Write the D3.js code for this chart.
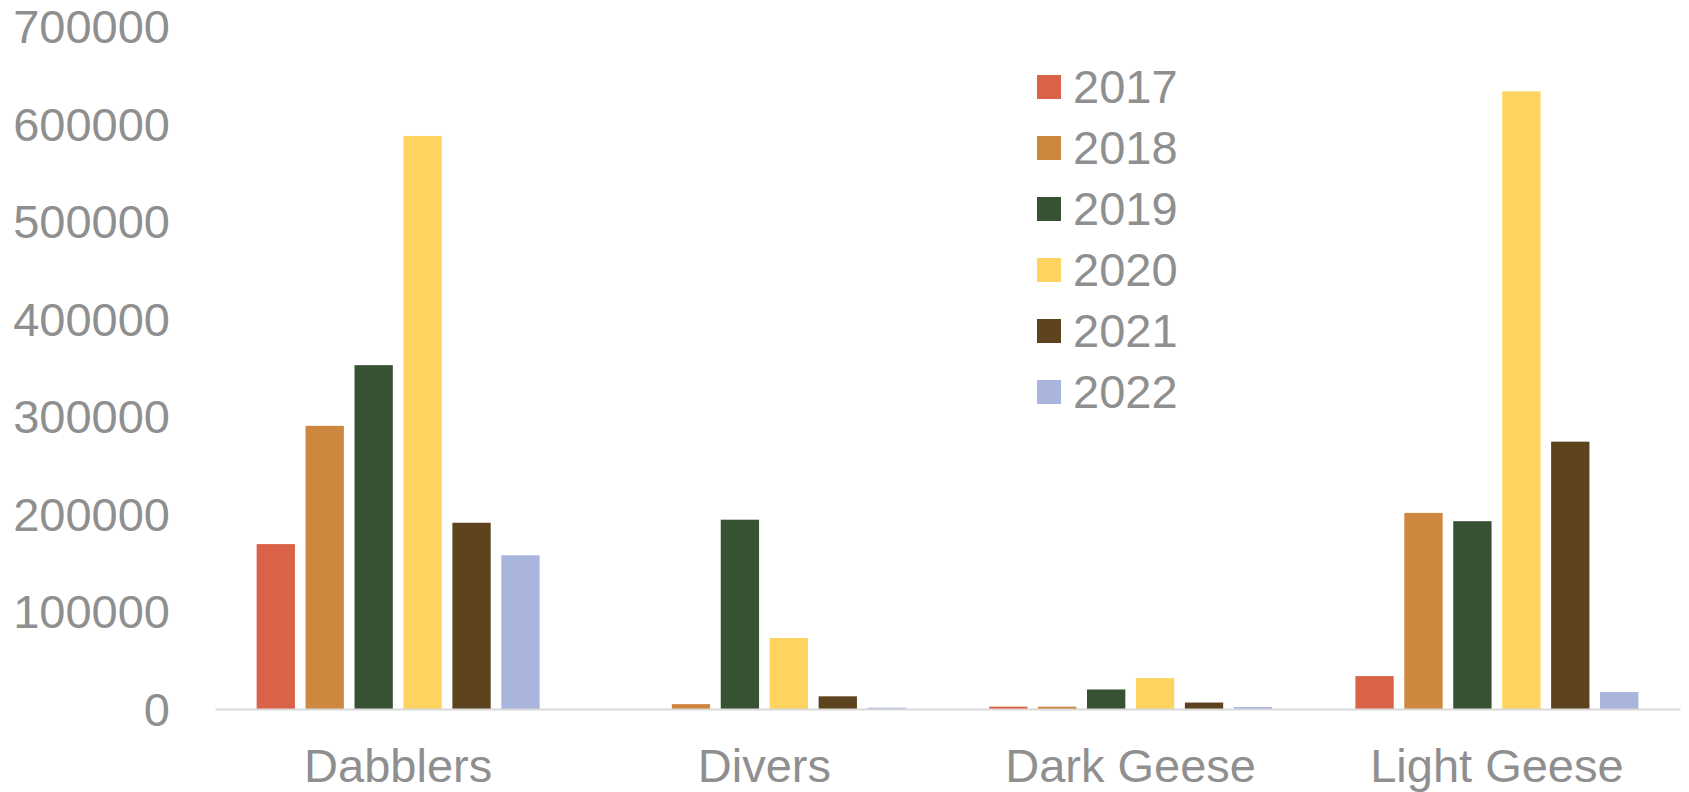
<!DOCTYPE html>
<html>
<head>
<meta charset="utf-8">
<script src="https://cdn.jsdelivr.net/npm/d3@7"></script>
<style>
  html, body { margin: 0; padding: 0; background: #fff; }
  svg text { font-family: "Liberation Sans", Arial, sans-serif; }
</style>
</head>
<body>
<svg id="chart" width="1689" height="792"></svg>
<script>
const categories = ["Dabblers", "Divers", "Dark Geese", "Light Geese"];
const years = ["2017", "2018", "2019", "2020", "2021", "2022"];
const values2017 = [169000, 0, 2400, 33700];
const values2018 = [290200, 5000, 2400, 201000];
const values2019 = [352400, 194000, 20000, 192500];
const values2020 = [587300, 72800, 31600, 633000];
const values2021 = [190900, 13000, 6600, 274000];
const values2022 = [157500, 1400, 2000, 17500];
const yTicks = [0, 100000, 200000, 300000, 400000, 500000, 600000, 700000];
const colors = ["#DA6249", "#CD873F", "#375233", "#FED35F", "#5C431D", "#A9B5DC"];

const seriesValues = [values2017, values2018, values2019, values2020, values2021, values2022];

const svg = d3.select("#chart");
const plot = { left: 215, right: 1680, top: 26, bottom: 709 };
const textColor = "#8f8f8f";
const fontSize = 47;

const x0 = d3.scaleBand().domain(categories).range([plot.left, plot.right]).paddingInner(0).paddingOuter(0);
const bw = x0.bandwidth();
const groupPad = bw * 41.6 / 366;
const x1 = d3.scaleBand().domain(years).range([groupPad, bw - groupPad]).paddingInner(0.217).paddingOuter(0);
const y = d3.scaleLinear().domain([0, 700000]).range([plot.bottom, plot.top]);

// y axis labels
const yAxis = d3.axisLeft(y).tickValues(yTicks).tickSize(0).tickPadding(0).tickFormat(d3.format("d"));
const yG = svg.append("g").attr("transform", "translate(170,0)").call(yAxis);
yG.select(".domain").remove();
yG.selectAll("text")
  .attr("fill", textColor)
  .style("font-size", fontSize + "px")
  .style("font-family", "'Liberation Sans', Arial, sans-serif")
  .attr("dy", "0.35em");

// bars
const groups = svg.append("g").selectAll("g")
  .data(categories)
  .join("g")
  .attr("transform", d => `translate(${x0(d)},0)`);

groups.selectAll("rect")
  .data((c, ci) => years.map((yr, si) => ({ yr, v: seriesValues[si][ci], color: colors[si] })))
  .join("rect")
  .attr("x", d => x1(d.yr))
  .attr("width", x1.bandwidth())
  .attr("y", d => y(d.v))
  .attr("height", d => y(0) - y(d.v))
  .attr("fill", d => d.color);

// x axis line
const xAxis = d3.axisBottom(x0).tickSize(0).tickPadding(0);
const xG = svg.append("g").attr("transform", `translate(0,${plot.bottom})`).call(xAxis);
xG.select(".domain").attr("stroke", "#d9d9d9").attr("stroke-width", 2);
xG.selectAll("text")
  .attr("fill", textColor)
  .style("font-size", fontSize + "px")
  .style("font-family", "'Liberation Sans', Arial, sans-serif")
  .attr("y", 73)
  .attr("dy", 0);

// legend
const legend = svg.append("g").attr("transform", "translate(1037,75)");
const li = legend.selectAll("g").data(years).join("g")
  .attr("transform", (d, i) => `translate(0,${i * 61})`);
li.append("rect").attr("width", 24).attr("height", 24).attr("fill", (d, i) => colors[i]);
li.append("text")
  .attr("x", 36).attr("y", 12).attr("dy", "0.35em")
  .attr("fill", textColor)
  .style("font-size", fontSize + "px")
  .text(d => d);
</script>
</body>
</html>
